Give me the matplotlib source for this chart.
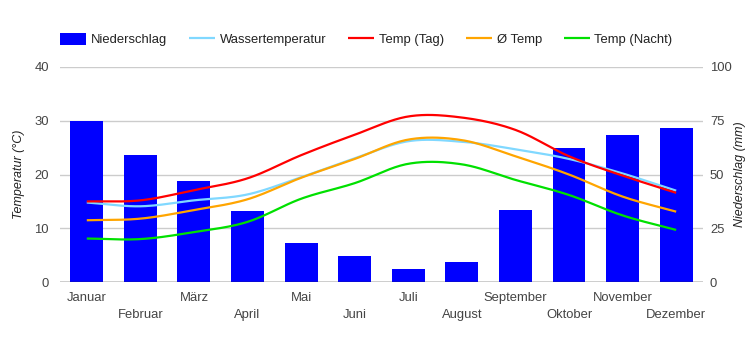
import numpy as np
import matplotlib
matplotlib.use("Agg")
import matplotlib.pyplot as plt

plt.rcParams['font.family'] = ['Liberation Sans', 'DejaVu Sans']

months = ["Januar", "Februar", "März", "April", "Mai", "Juni", "Juli",
          "August", "September", "Oktober", "November", "Dezember"]
niederschlag = [75, 59, 47, 33, 18, 12, 6, 9.5, 33.5, 62.5, 68.5, 71.5]
wasser = [14.8, 14.1, 15.2, 16.3, 19.5, 23.0, 26.2, 26.1, 24.7, 22.9, 20.2, 17.0]
temp_tag = [15.0, 15.2, 17.1, 19.3, 23.6, 27.4, 30.8, 30.6, 28.3, 23.4, 19.8, 16.6]
temp_avg = [11.5, 11.8, 13.4, 15.4, 19.4, 22.9, 26.5, 26.4, 23.4, 20.0, 15.9, 13.1]
temp_nacht = [8.1, 8.0, 9.3, 11.2, 15.5, 18.4, 22.0, 21.9, 19.0, 16.2, 12.4, 9.7]


def smooth(x, y, n=20):
    # Catmull-Rom Kurve durch die Punkte (nur Darstellung)
    x = np.asarray(x, float)
    y = np.asarray(y, float)
    px = np.concatenate([[2 * x[0] - x[1]], x, [2 * x[-1] - x[-2]]])
    py = np.concatenate([[2 * y[0] - y[1]], y, [2 * y[-1] - y[-2]]])
    xs, ys = [], []
    t = np.linspace(0, 1, n, endpoint=False)
    for i in range(1, len(px) - 2):
        for arr, out in ((px, xs), (py, ys)):
            p0, p1, p2, p3 = arr[i - 1], arr[i], arr[i + 1], arr[i + 2]
            out.extend(0.5 * (2 * p1 + (-p0 + p2) * t
                              + (2 * p0 - 5 * p1 + 4 * p2 - p3) * t ** 2
                              + (-p0 + 3 * p1 - 3 * p2 + p3) * t ** 3))
    xs.append(x[-1])
    ys.append(y[-1])
    return xs, ys


fig = plt.figure(figsize=(7.5, 3.5), dpi=100)
ax = fig.add_axes([0.08, 0.194, 0.8573, 0.6146])
ax2 = ax.twinx()
ax.set_zorder(ax2.get_zorder() + 1)
ax.patch.set_visible(False)

x = np.arange(len(months))
bars = ax2.bar(x, niederschlag, width=0.615, color="#0000ff", zorder=2,
               label="Niederschlag")
ax2.set_ylim(0, 100)
ax2.set_yticks([0, 25, 50, 75, 100])
ax2.grid(axis="y", color="#cccccc", linewidth=1, zorder=0)
ax2.set_axisbelow(True)

lines = []
for vals, col, lab in [(wasser, "#80d8ff", "Wassertemperatur"),
                       (temp_tag, "#ff0000", "Temp (Tag)"),
                       (temp_avg, "#ffa500", "Ø Temp"),
                       (temp_nacht, "#00e000", "Temp (Nacht)")]:
    sx, sy = smooth(x, vals)
    ln, = ax.plot(sx, sy, color=col, linewidth=1.6, label=lab,
                  solid_capstyle="butt")
    lines.append(ln)

ax.axhline(0, color="#333333", linewidth=1, zorder=5)
ax.set_ylim(0, 40)
ax.set_yticks([0, 10, 20, 30, 40])
ax.set_xlim(-0.5, len(months) - 0.5)
ax.set_xticks(x)
ax.set_xticklabels(months)

for a in (ax, ax2):
    for s in a.spines.values():
        s.set_visible(False)
    a.tick_params(length=0, labelsize=9.4, colors="#444444")
ax.tick_params(axis="y", pad=8)
ax2.tick_params(axis="y", pad=5)
for i, tk in enumerate(ax.xaxis.get_major_ticks()):
    tk.set_pad(7 if i % 2 == 0 else 19.5)

ax.set_ylabel("Temperatur (°C)", fontsize=9, style="italic", color="#222222",
              labelpad=7)
ax2.set_ylabel("Niederschlag (mm)", fontsize=9, style="italic", color="#222222",
               labelpad=2)

fig.legend([bars] + lines, [bars.get_label()] + [l.get_label() for l in lines],
           loc="center left", bbox_to_anchor=(0.08, 0.887), ncol=5,
           frameon=False, fontsize=9.4, handlelength=2.0, handleheight=1.0,
           handletextpad=0.35, columnspacing=1.68, borderaxespad=0, borderpad=0,
           labelcolor="#222222")

fig.savefig("out.png", dpi=100)
